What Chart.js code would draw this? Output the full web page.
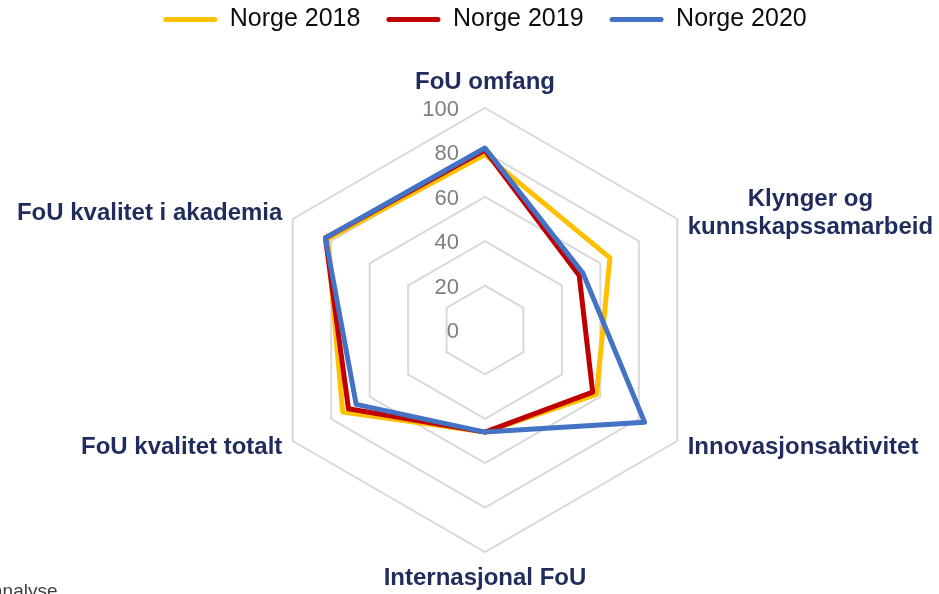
<!DOCTYPE html>
<html>
<head>
<meta charset="utf-8">
<script src="https://cdn.jsdelivr.net/npm/chart.js@4"></script>
<style>
html, body { margin: 0; padding: 0; background: #fff; }
#wrap { position: relative; width: 939px; height: 594px; overflow: hidden; }
#kilde { position: absolute; left: -8px; top: 580px; font: 19px "Liberation Sans", Arial, sans-serif; color: #404040; }
</style>
</head>
<body>
<div id="wrap">
  <canvas id="chart" width="939" height="594"></canvas>
  <div id="kilde">analyse</div>
</div>
<script>
const kategorier = ['FoU omfang', ['Klynger og', 'kunnskapssamarbeid'], 'Innovasjonsaktivitet',
                    'Internasjonal FoU', 'FoU kvalitet totalt', 'FoU kvalitet i akademia'];
const norge2018 = [79, 65, 58, 46, 74, 82];
const norge2019 = [81, 49, 56, 46, 71, 83];
const norge2020 = [82, 51, 83, 46, 67, 83];
const tickVerdier = [0, 20, 40, 60, 80, 100];
const tickTekst = ['0', '20', '40', '60', '80', '100'];

const gul = '#FFC000';
const rod = '#C00000';
const bla = '#4472C4';
const navy = '#1F2C5C';

// tekst for akser og tall, tegnet fra skalaen
const tekstPlugin = {
    id: 'tekst',
    beforeInit(chart) {
        const fit = chart.legend.fit;
        chart.legend.fit = function() {
            fit.bind(chart.legend)();
            this.height = 127;
        };
    },
    beforeDatasetsDraw(chart) {
        const ctx = chart.ctx;
        const r = chart.scales.r;
        ctx.save();
        ctx.font = '22px "Liberation Sans", Arial, sans-serif';
        ctx.fillStyle = '#7f7f7f';
        ctx.textAlign = 'right';
        ctx.textBaseline = 'middle';
        tickVerdier.forEach((v, i) => {
            const p = r.getPointPositionForValue(0, v);
            ctx.fillText(tickTekst[i], p.x - 26, p.y + 2);
        });

        ctx.font = 'bold 24px "Liberation Sans", Arial, sans-serif';
        ctx.fillStyle = navy;
        ctx.textAlign = 'center';
        kategorier.forEach((lab, i) => {
            const p0 = r.getPointPosition(i, r.drawingArea);
            const dx = p0.x - r.xCenter;
            const side = Math.abs(dx) < 1 ? 0 : Math.sign(dx);
            const p = r.getPointPosition(i, r.drawingArea + (side === 0 ? 26 : 12));
            const linjer = Array.isArray(lab) ? lab : [lab];
            const bredde = Math.max(...linjer.map(l => ctx.measureText(l).width));
            linjer.forEach((l, k) => {
                const cx = side === 0 ? p.x : p.x + side * bredde / 2;
                const cy = p.y + (k - (linjer.length - 1) / 2) * 28;
                ctx.fillText(l, cx, cy);
            });
        });
        ctx.restore();
    }
};

const ctx = document.getElementById('chart').getContext('2d');

const chart = new Chart(ctx, {
    type: 'radar',
    data: {
        labels: kategorier,
        datasets: [{
            label: 'Norge 2018',
            data: norge2018,
            borderColor: gul,
            backgroundColor: gul,
            order: 3
        }, {
            label: 'Norge 2019',
            data: norge2019,
            borderColor: rod,
            backgroundColor: rod,
            order: 2
        }, {
            label: 'Norge 2020',
            data: norge2020,
            borderColor: bla,
            backgroundColor: bla,
            order: 1
        }]
    },
    options: {
        responsive: false,
        animation: false,
        devicePixelRatio: 1,
        layout: {
            padding: { top: -19, left: 31, right: 0, bottom: 41 }
        },
        elements: {
            line: { borderWidth: 5, tension: 0, fill: false, borderJoinStyle: 'round' },
            point: { radius: 0, hoverRadius: 0 }
        },
        scales: {
            r: {
                min: 0,
                max: 100,
                ticks: { stepSize: 20, display: false },
                grid: { color: '#d9d9d9', lineWidth: 2 },
                angleLines: { display: false },
                pointLabels: { display: false }
            }
        },
        plugins: {
            tooltip: { enabled: false },
            legend: {
                position: 'top',
                labels: {
                    boxWidth: 54,
                    boxHeight: 5,
                    padding: 26,
                    color: '#0d0d0d',
                    font: { family: '"Liberation Sans", Arial, sans-serif', size: 25 },
                    useBorderRadius: true,
                    borderRadius: 2.5,
                    sort: (a, b) => a.datasetIndex - b.datasetIndex,
                    generateLabels: c => Chart.defaults.plugins.legend.labels.generateLabels(c)
                        .map(l => Object.assign(l, { lineWidth: 0 }))
                }
            }
        }
    },
    plugins: [tekstPlugin]
});
</script>
</body>
</html>
